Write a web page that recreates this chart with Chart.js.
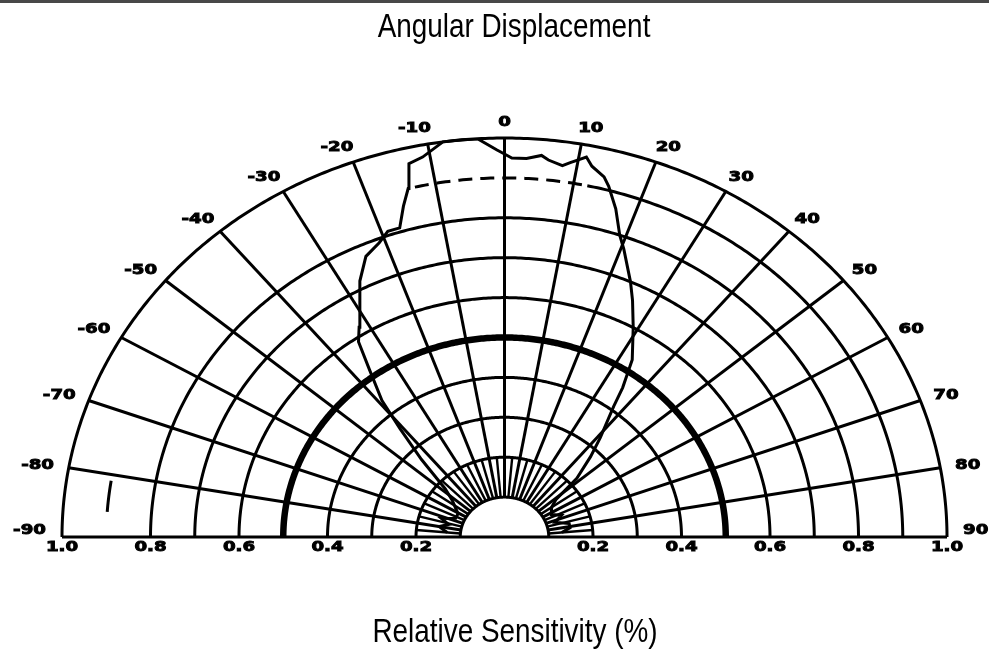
<!DOCTYPE html>
<html>
<head>
<meta charset="utf-8">
<script src="https://cdn.jsdelivr.net/npm/chart.js@4.4.1/dist/chart.umd.min.js"></script>
<style>
  html, body { margin: 0; padding: 0; background: #fff; }
  #wrap { position: relative; width: 989px; height: 649px; }
  #topbar { position: absolute; left: 0; top: 0; width: 989px; height: 3px; background: #484848; }
</style>
</head>
<body>
<div id="wrap">
  <canvas id="polarChart" width="989" height="649"></canvas>
  <div id="topbar"></div>
</div>
<script>
// measured pattern: angle (deg) and relative sensitivity (0..1)
const angleDeg = [-85, -80, -76, -72, -67, -61, -52, -48, -44, -41, -39, -36, -34, -32, -27, -24, -21, -19, -17, -15.4, -14, -13, -11, -8, -6, -3.5, -1, 0, 1, 3, 5, 6, 8, 9, 11, 12, 14, 15, 17, 19, 20.5, 24, 26, 29, 33, 35.5, 37, 41, 44, 48, 51, 55, 62, 67, 72, 77, 81, 85];
const sensitivity = [0.13, 0.15, 0.13, 0.15, 0.12, 0.12, 0.15, 0.18, 0.27, 0.36, 0.44, 0.52, 0.59, 0.62, 0.72, 0.77, 0.79, 0.81, 0.81, 0.86, 0.90, 0.96, 0.97, 1.00, 1.00, 1.00, 0.97, 0.96, 0.95, 0.95, 0.96, 0.95, 0.94, 0.95, 0.97, 0.95, 0.93, 0.91, 0.86, 0.80, 0.77, 0.70, 0.66, 0.60, 0.53, 0.46, 0.41, 0.33, 0.28, 0.22, 0.15, 0.13, 0.12, 0.14, 0.12, 0.15, 0.15, 0.13];

const angleTicks = [-90, -80, -70, -60, -50, -40, -30, -20, -10, 0, 10, 20, 30, 40, 50, 60, 70, 80, 90];
const radialTicks = [0.2, 0.4, 0.6, 0.8, 1.0];
const ringValues = [0.1, 0.2, 0.3, 0.4, 0.5, 0.6, 0.7, 0.8, 0.9, 1.0];

const chartTitle = 'Angular Displacement';
const axisTitle = 'Relative Sensitivity (%)';

const rad = d => d * Math.PI / 180;

// draw text squeezed / stretched horizontally (narrow title font, blocky tick font)
function drawText(ctx, text, px, py, align, sx, font, baseline, heavy) {
  ctx.save();
  ctx.font = font;
  ctx.textAlign = align;
  ctx.textBaseline = baseline || 'middle';
  ctx.translate(px, py);
  ctx.scale(sx, 1);
  ctx.fillText(text, 0, 0);
  if (heavy) {
    ctx.lineWidth = 0.9;
    ctx.strokeStyle = '#000';
    ctx.strokeText(text, 0, 0);
  }
  ctx.restore();
}

const polarGrid = {
  id: 'polarGrid',
  beforeDatasetsDraw(chart) {
    const { ctx, scales: { x, y } } = chart;
    const pt = (r, d) => [x.getPixelForValue(r * Math.sin(rad(d))), y.getPixelForValue(r * Math.cos(rad(d)))];
    const seg = (r1, r2, d) => {
      const a = pt(r1, d), b = pt(r2, d);
      ctx.beginPath(); ctx.moveTo(a[0], a[1]); ctx.lineTo(b[0], b[1]); ctx.stroke();
    };
    const arc = (r, from, to) => {
      ctx.beginPath();
      for (let d = from; d <= to + 1e-6; d += 0.5) {
        const p = pt(r, d);
        if (d === from) ctx.moveTo(p[0], p[1]); else ctx.lineTo(p[0], p[1]);
      }
      ctx.stroke();
    };
    ctx.save();
    ctx.strokeStyle = '#000';
    // spokes every 10 deg, short ones every 5 deg near the centre
    ctx.lineWidth = 3;
    for (let d = -80; d <= 80; d += 10) seg(0.1, 1.0, d);
    ctx.lineWidth = 2.4;
    for (let d = -85; d <= 85; d += 10) seg(0.1, 0.2, d);
    // rings
    ringValues.forEach(r => {
      if (r === 0.9) return;
      ctx.lineWidth = r === 0.5 ? 6.5 : 3;
      arc(r, -90, 90);
    });
    // 0.9 ring is only partly printed in the original
    ctx.lineWidth = 3;
    arc(0.9, 12, 90);
    ctx.setLineDash([14, 8]);
    arc(0.9, -13, 12);
    ctx.setLineDash([]);
    arc(0.9, -86, -81);
    // baseline
    ctx.lineWidth = 3.2;
    const l = pt(1, -90), rr = pt(1, 90);
    ctx.beginPath(); ctx.moveTo(l[0], l[1]); ctx.lineTo(rr[0], rr[1]); ctx.stroke();
    ctx.restore();
  },
  afterDraw(chart) {
    const { ctx, scales: { x, y } } = chart;
    const tickFont = 'bold 14px "DejaVu Sans", sans-serif';
    const titleFont = '34px "Liberation Sans", Arial, sans-serif';
    const sx = 1.3;
    ctx.save();
    ctx.fillStyle = '#000';
    angleTicks.forEach(d => {
      const s = Math.sin(rad(d)), c = Math.cos(rad(d));
      const ex = x.getPixelForValue(s), ey = y.getPixelForValue(c);
      const ly = Math.abs(d) === 90 ? ey - 7 : ey - 16 * c;
      if (d === 0) drawText(ctx, String(d), ex, ly, 'center', sx, tickFont, 'middle', true);
      else if (d > 0) drawText(ctx, String(d), ex + 16 * s - 6 * c, ly, 'left', sx, tickFont, 'middle', true);
      else drawText(ctx, String(d), ex + 16 * s + 6 * c, ly, 'right', sx, tickFont, 'middle', true);
    });
    const by = y.getPixelForValue(0) + 10;
    radialTicks.forEach(r => {
      drawText(ctx, r.toFixed(1), x.getPixelForValue(-r), by, 'center', sx, tickFont, 'middle', true);
      drawText(ctx, r.toFixed(1), x.getPixelForValue(r), by, 'center', sx, tickFont, 'middle', true);
    });
    drawText(ctx, chartTitle, 514, 37, 'center', 0.82, titleFont, 'alphabetic');
    drawText(ctx, axisTitle, 515, 642, 'center', 0.82, titleFont, 'alphabetic');
    ctx.restore();
  }
};

new Chart(document.getElementById('polarChart'), {
  type: 'scatter',
  data: {
    datasets: [{
      label: 'Relative Sensitivity',
      data: angleDeg.map((a, i) => ({ x: sensitivity[i] * Math.sin(rad(a)), y: sensitivity[i] * Math.cos(rad(a)) })),
      showLine: true,
      borderColor: '#000',
      borderWidth: 3,
      pointRadius: 0,
      tension: 0,
      fill: false
    }]
  },
  options: {
    responsive: false,
    animation: false,
    devicePixelRatio: 1,
    layout: { padding: { left: 62, right: 42, top: 138, bottom: 112 } },
    plugins: {
      legend: { display: false },
      tooltip: { enabled: false },
      title: { display: false }
    },
    scales: {
      x: { type: 'linear', min: -1, max: 1, display: false },
      y: { type: 'linear', min: 0, max: 1, display: false }
    }
  },
  plugins: [polarGrid]
});
</script>
</body>
</html>
